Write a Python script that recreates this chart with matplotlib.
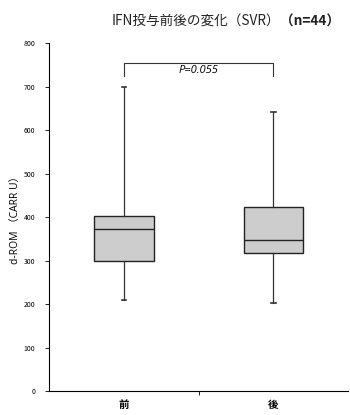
import matplotlib
matplotlib.use('Agg')
import matplotlib.pyplot as plt

plt.rcParams['font.family'] = ['Noto Sans CJK JP', 'DejaVu Sans']

# d-ROM before / after IFN therapy (SVR group)
groups = ['前', '後']
whisker_low = [211, 204]
q1 = [300, 319]
median = [373, 348]
q3 = [403, 423]
whisker_high = [700, 641]

p_text = 'P=0.055'
bracket_top = 754
bracket_end = 724

stats = []
for i in range(len(groups)):
    stats.append({'whislo': whisker_low[i], 'q1': q1[i], 'med': median[i],
                  'q3': q3[i], 'whishi': whisker_high[i], 'fliers': []})

fig = plt.figure(figsize=(3.5, 4.15), dpi=100)
ax = fig.add_axes([0.14, 0.057, 0.855, 0.839])

pos = [0.5, 1.5]
ax.bxp(stats, positions=pos, widths=0.4, patch_artist=True, showfliers=False,
       boxprops=dict(facecolor='#cdcdcd', edgecolor='#222222', linewidth=1.0),
       medianprops=dict(color='#222222', linewidth=1.0),
       whiskerprops=dict(color='#333333', linewidth=0.9),
       capprops=dict(color='#333333', linewidth=1.2), capwidths=0.03)

# significance bracket
ax.plot([pos[0], pos[0], pos[1], pos[1]],
        [bracket_end, bracket_top, bracket_top, bracket_end],
        color='#333333', linewidth=0.8)
ax.text(1.0, bracket_top - 4, p_text, ha='center', va='top',
        fontsize=8, style='italic', family=['Open Sans', 'DejaVu Sans'])

ax.set_xlim(0, 2)
ax.set_ylim(0, 800)
ax.set_yticks(range(0, 801, 100))
ax.tick_params(axis='y', labelsize=5, length=3, width=0.6, pad=7)
ax.set_xticks([1.0])
ax.set_xticklabels([''])
ax.tick_params(axis='x', length=3, width=0.6)
for x, g in zip(pos, groups):
    ax.text(x, -20, g, ha='center', va='top', fontsize=7.5, fontweight='bold')

ax.spines['top'].set_visible(False)
ax.spines['right'].set_visible(False)
ax.spines['left'].set_linewidth(0.8)
ax.spines['bottom'].set_linewidth(0.8)

ax.set_ylabel('d-ROM （CARR U）', fontsize=7.5, labelpad=2,
              family=['Open Sans', 'Noto Sans CJK JP'])

fig.text(0.8, 0.947, 'IFN投与前後の変化（SVR）', ha='right', va='center',
         fontsize=9.8, color='#222222')
fig.text(0.8, 0.947, '（n=44）', ha='left', va='center',
         fontsize=9.8, fontweight='bold', color='#222222')

fig.savefig('out.png', dpi=100)
